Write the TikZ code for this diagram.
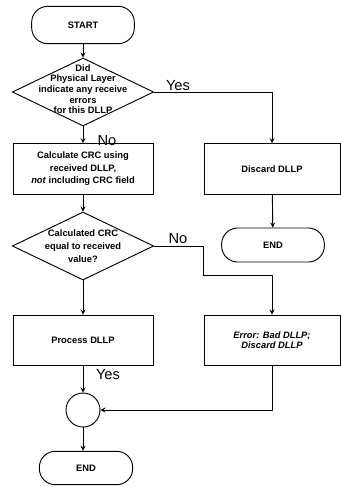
\documentclass[tikz,border=0pt]{standalone}
\usepackage{fontspec}
\setmainfont{Liberation Sans}
\usetikzlibrary{shapes.geometric}

\begin{document}
\begin{tikzpicture}[x=0.75pt,y=-0.75pt,>=stealth,line width=0.7pt,
    term/.style={draw, rectangle, rounded corners=12pt, minimum width=77pt,
      minimum height=25.5pt, font=\fontsize{7}{8}\selectfont\bfseries},
    proc/.style={draw, rectangle, minimum width=105pt, minimum height=38pt,
      align=center, font=\fontsize{7}{9.4}\selectfont\bfseries},
    decide/.style={draw, diamond, minimum width=106pt, minimum height=51pt,
      inner sep=0pt},
    qtext/.style={align=center, font=\fontsize{7}{8}\selectfont\bfseries},
    joint/.style={draw, circle, minimum size=25.5pt, inner sep=0pt},
    yesno/.style={font=\fontsize{11}{13}\selectfont, inner sep=0pt}]

  \useasboundingbox (0,0) rectangle (341,487);

  \def\Lx{83}   % left column
  \def\Rx{272}  % right column

  % nodes
  \node[term, minimum height=28pt] (start) at (\Lx,25) {START};
  \node[decide] (qphy) at (\Lx,92) {};
  \node[qtext] (qphy-t) at (\Lx,89)
    {Did\\Physical Layer\\indicate any receive\\errors\\for this DLLP};
  \node[proc] (calc) at (\Lx,169)
    {Calculate CRC using\\received DLLP,\\\textit{not} including CRC field};
  \node[proc, minimum width=102pt] (discard) at (\Rx,169) {Discard DLLP};
  \node[term] (endA) at (273,245) {END};
  \node[decide] (qcrc) at (\Lx,246) {};
  \node[qtext, font=\fontsize{7}{9.5}\selectfont\bfseries] (qcrc-t) at (\Lx,246)
    {Calculated CRC\\equal to received\\value?};
  \node[proc, minimum height=37.5pt] (process) at (\Lx,340) {Process DLLP};
  \node[proc, minimum width=102pt, minimum height=37.5pt,
    font=\fontsize{7}{7.8}\selectfont\bfseries\itshape] (error) at (\Rx,340)
    {Error: Bad DLLP;\\Discard DLLP};
  \node[joint] (join) at (\Lx,410) {};
  \node[term, minimum width=70pt, minimum height=25pt] (endB) at (86,468) {END};

  \coordinate (bendA) at (203,275);

  % connectors
  \draw[->] (start) -- (qphy);
  \draw[->] (qphy) -- (calc);
  \draw[->] (qphy.east) -| (discard.north);
  \draw[->] (discard) -- (endA);
  \draw[->] (calc) -- (qcrc);
  \draw[->] (qcrc) -- (process);
  \draw[->] (qcrc.east) -| (bendA) -| (error.north);
  \draw[->] (process) -- (join);
  \draw[->] (error.south) |- (join.east);
  \draw[->] (join) -- (join |- endB.north);

  % labels
  \node[yesno] (yesA) at (178,86) {Yes};
  \node[yesno] (noA) at (107,141) {No};
  \node[yesno] (noB) at (178,239) {No};
  \node[yesno] (yesB) at (108,375) {Yes};

\end{tikzpicture}
\end{document}
